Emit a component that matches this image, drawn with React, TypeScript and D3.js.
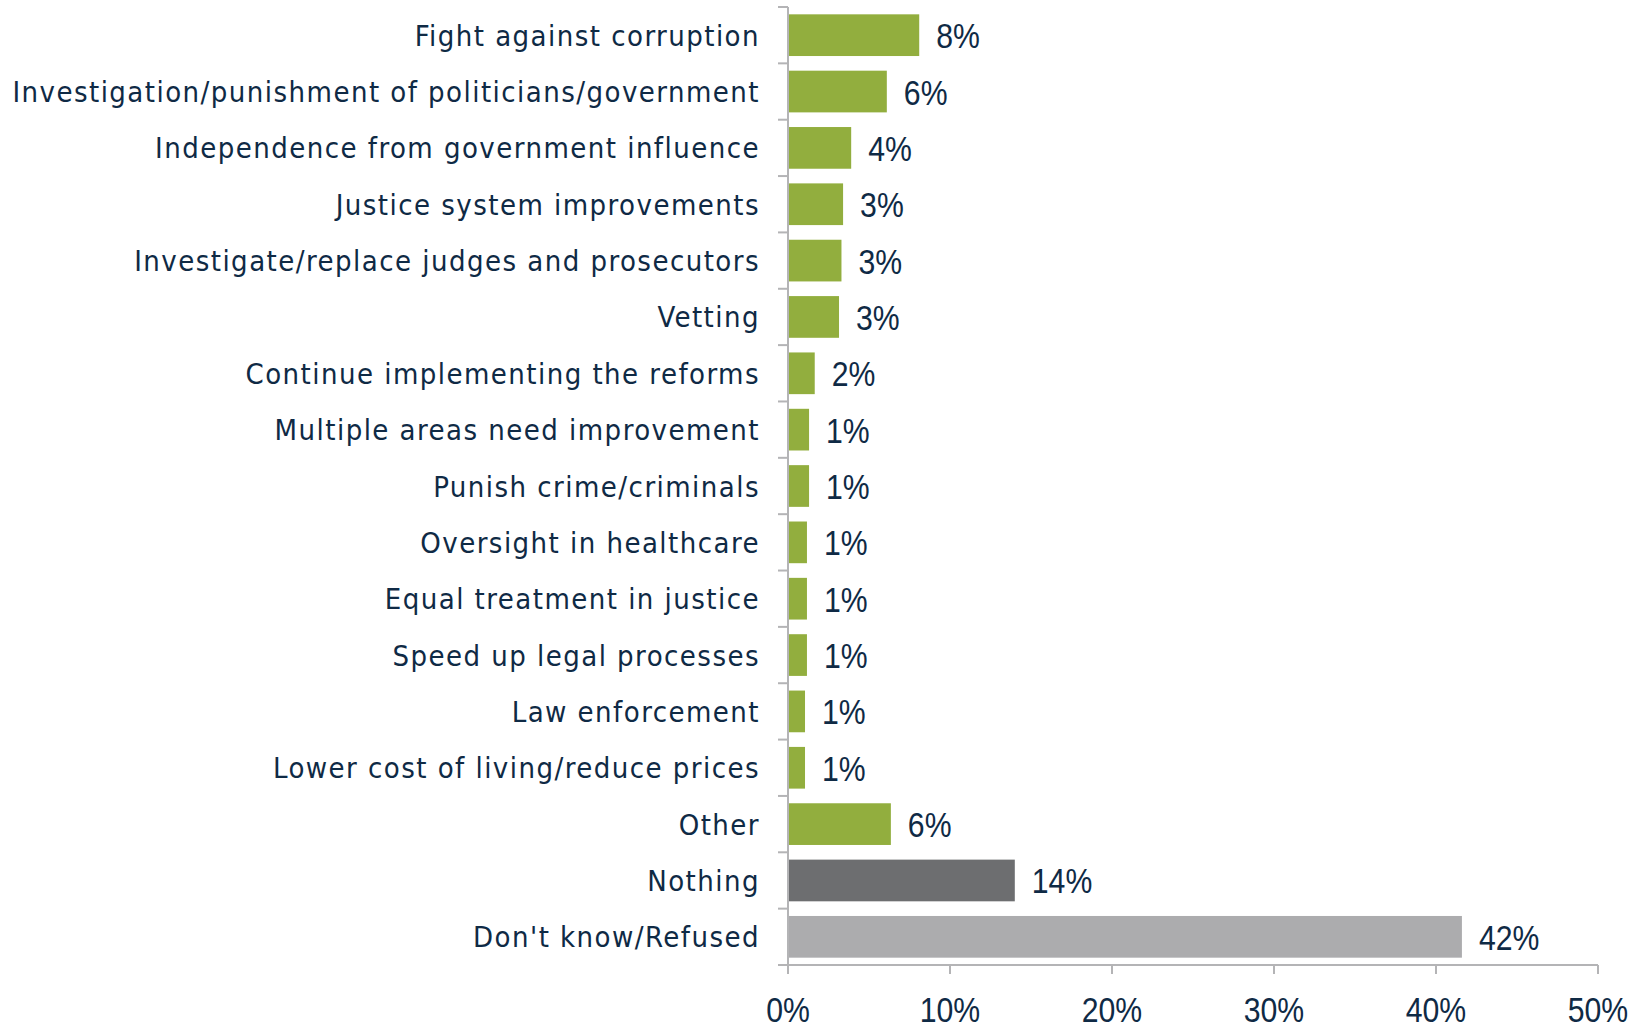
import * as d3 from 'd3'

const categories = [
  'Fight against corruption',
  'Investigation/punishment of politicians/government',
  'Independence from government influence',
  'Justice system improvements',
  'Investigate/replace judges and prosecutors',
  'Vetting',
  'Continue implementing the reforms',
  'Multiple areas need improvement',
  'Punish crime/criminals',
  'Oversight in healthcare',
  'Equal treatment in justice',
  'Speed up legal processes',
  'Law enforcement',
  'Lower cost of living/reduce prices',
  'Other',
  'Nothing',
  "Don't know/Refused",
]

const values = [8.1, 6.1, 3.9, 3.4, 3.3, 3.15, 1.65, 1.3, 1.3, 1.17, 1.17, 1.17, 1.05, 1.05, 6.35, 14.0, 41.6]
const valueLabels = ['8%', '6%', '4%', '3%', '3%', '3%', '2%', '1%', '1%', '1%', '1%', '1%', '1%', '1%', '6%', '14%', '42%']
const xTicks = [0, 10, 20, 30, 40, 50]

const WIDTH = 1648
const HEIGHT = 1027
const GREEN = '#92ae3e'
const TEXT = '#0f2a45'
const AXIS = '#b4b4b6'

const barColor = (c: string) =>
  c === 'Nothing' ? '#6d6e70' : c === "Don't know/Refused" ? '#acacae' : GREEN

const labelFont = "'DejaVu Sans Condensed', 'DejaVu Sans', sans-serif"
const numFont = "'Liberation Sans', Arial, sans-serif"
const NUM_SX = 0.84

// narrow-looking number text: liberation sans squeezed horizontally
const NumText = ({ x, y, anchor, children }: { x: number; y: number; anchor?: string; children: string }) => (
  <g transform={`translate(${x},${y}) scale(${NUM_SX},1)`}>
    <text x={0} y={0} textAnchor={anchor ?? 'start'} fontFamily={numFont} fontSize={36} fill={TEXT}>
      {children}
    </text>
  </g>
)

const App = () => {
  const x0 = 788
  const xScale = d3.scaleLinear().domain([0, 50]).range([x0, 1598])
  const yScale = d3
    .scaleBand<string>()
    .domain(categories)
    .range([7, 965])
    .paddingInner(0.26)
    .paddingOuter(0.13)
  const bottom = 965
  const step = yScale.step()
  const bounds = d3.range(categories.length + 1).map(i => 7 + i * step)

  return (
    <svg
      width={WIDTH}
      height={HEIGHT}
      style={{ position: 'absolute', left: 0, top: 0, background: '#fff' }}
    >
      {categories.map((c, i) => {
        const y = yScale(c) ?? 0
        const bw = yScale.bandwidth()
        const cy = y + bw / 2
        return (
          <g key={c}>
            <rect x={x0} y={y} width={xScale(values[i]) - x0} height={bw} fill={barColor(c)} />
            <text
              x={760}
              y={cy + 10.5}
              textAnchor="end"
              fontFamily={labelFont}
              fontStretch="condensed"
              fontSize={29}
              letterSpacing={1.45}
              fill={TEXT}
            >
              {c}
            </text>
            <NumText x={xScale(values[i]) + 17} y={cy + 13}>
              {valueLabels[i]}
            </NumText>
          </g>
        )
      })}
      {bounds.map((b, i) => (
        <line key={'t' + i} x1={778} x2={x0} y1={b} y2={b} stroke={AXIS} strokeWidth={2} />
      ))}
      <line x1={x0} x2={x0} y1={7} y2={bottom} stroke={AXIS} strokeWidth={2} />
      <line x1={x0} x2={xScale(50)} y1={bottom} y2={bottom} stroke={AXIS} strokeWidth={2} />
      {xTicks.map(t => (
        <g key={'x' + t}>
          <line x1={xScale(t)} x2={xScale(t)} y1={bottom} y2={bottom + 9} stroke={AXIS} strokeWidth={2} />
          <NumText x={xScale(t)} y={1022} anchor="middle">
            {`${t}%`}
          </NumText>
        </g>
      ))}
    </svg>
  )
}

export default App
